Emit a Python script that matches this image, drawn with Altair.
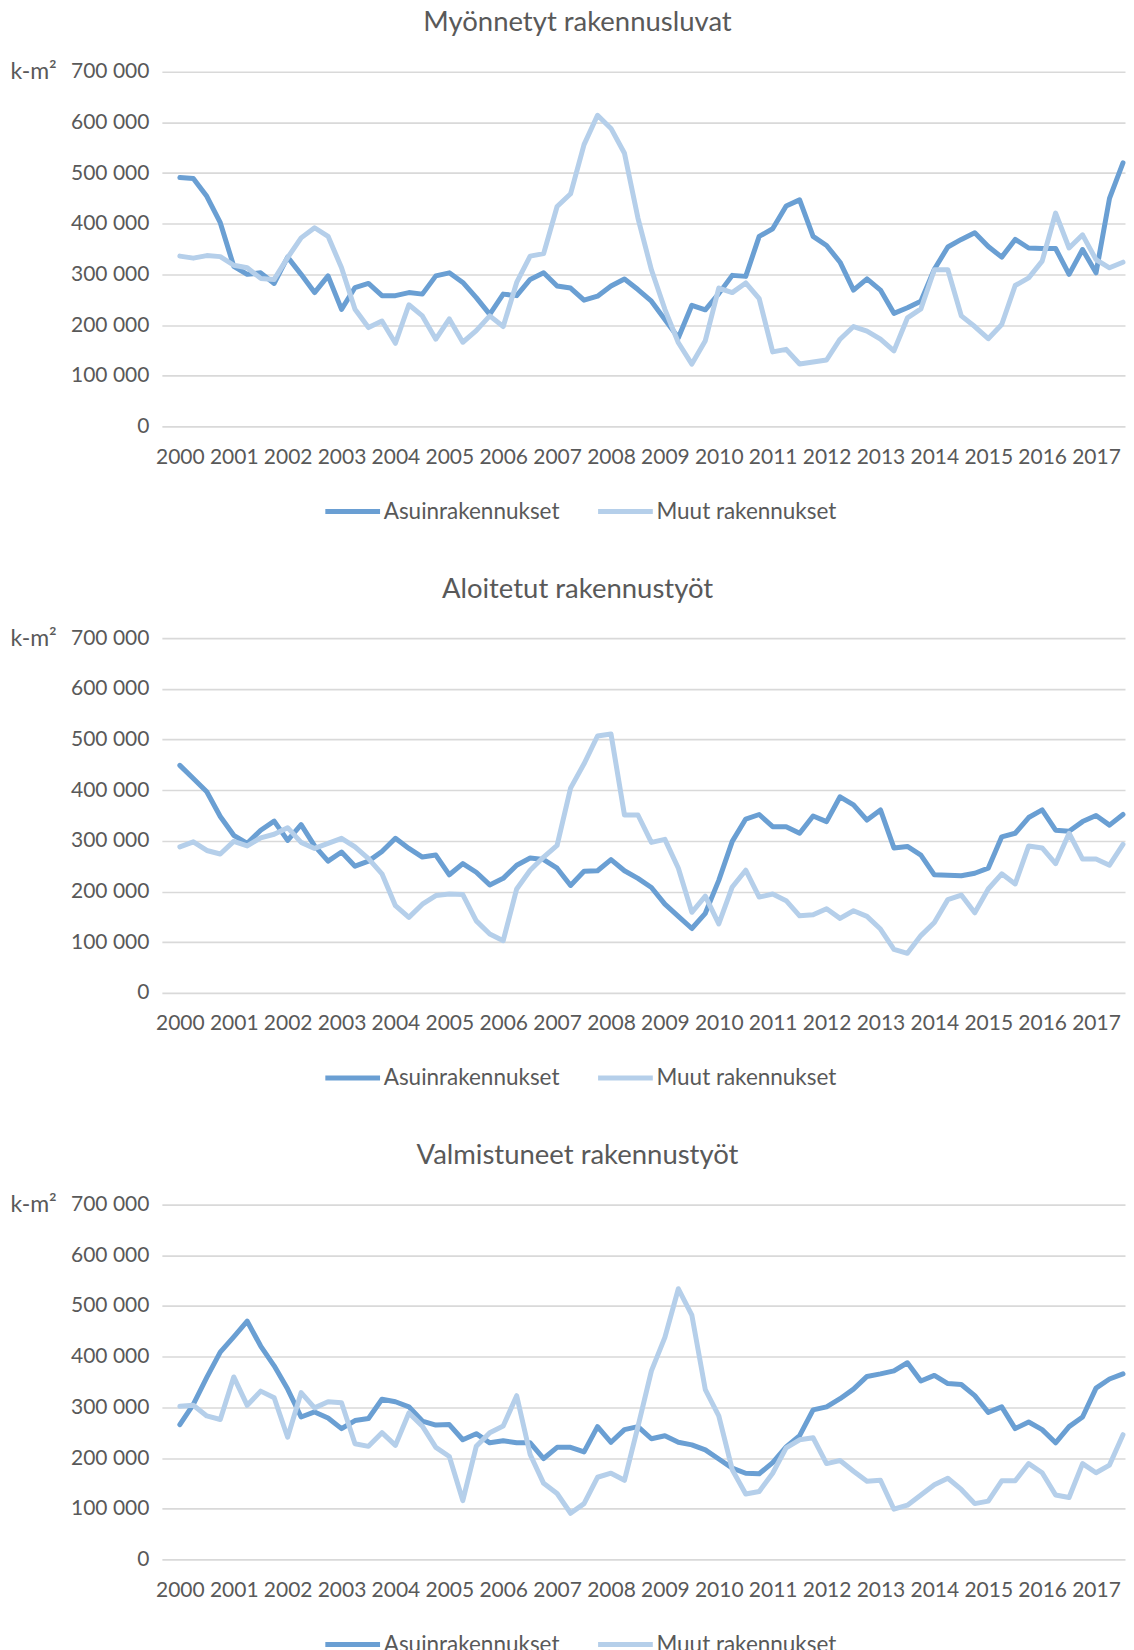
import altair as alt
import pandas as pd

# ---------------- data (quarterly, 2000Q1 .. 2017Q3) ----------------
SERIES = ["Asuinrakennukset", "Muut rakennukset"]
YEARS = list(range(2000, 2018))

TITLES = ["Myönnetyt rakennusluvat", "Aloitetut rakennustyöt", "Valmistuneet  rakennustyöt"]

p1_asuin = [491000, 489000, 454000, 402000, 316000, 300000, 303000, 282000, 334000, 300000,
            264000, 297000, 231000, 274000, 282000, 258000, 258000, 264000, 261000, 297000,
            303000, 284000, 254000, 221000, 261000, 258000, 290000, 303000, 277000, 273000,
            249000, 257000, 277000, 291000, 270000, 247000, 211000, 175000, 239000, 230000,
            262000, 298000, 296000, 375000, 390000, 435000, 447000, 375000, 357000, 324000,
            269000, 291000, 269000, 223000, 234000, 247000, 310000, 354000, 369000, 382000,
            355000, 334000, 369000, 352000, 351000, 351000, 300000, 349000, 303000, 450000,
            520000]
p1_muut = [336000, 332000, 337000, 335000, 318000, 313000, 292000, 290000, 333000, 372000,
           392000, 375000, 313000, 231000, 195000, 208000, 164000, 240000, 218000, 172000,
           212000, 166000, 189000, 218000, 197000, 284000, 336000, 341000, 434000, 459000,
           556000, 614000, 588000, 539000, 411000, 309000, 231000, 165000, 123000, 169000,
           273000, 264000, 283000, 252000, 147000, 152000, 123000, 127000, 131000, 172000,
           197000, 188000, 172000, 149000, 214000, 232000, 309000, 309000, 218000, 197000,
           173000, 201000, 278000, 293000, 326000, 421000, 352000, 378000, 329000, 313000,
           324000]

p2_asuin = [449000, 423000, 397000, 348000, 311000, 295000, 321000, 339000, 301000, 332000,
            290000, 260000, 278000, 250000, 260000, 279000, 305000, 285000, 268000, 272000,
            233000, 255000, 238000, 213000, 226000, 252000, 266000, 263000, 246000, 212000,
            240000, 241000, 263000, 241000, 226000, 208000, 175000, 151000, 127000, 157000,
            222000, 299000, 343000, 352000, 328000, 328000, 315000, 349000, 338000, 387000,
            371000, 341000, 361000, 286000, 289000, 272000, 233000, 232000, 231000, 236000,
            246000, 308000, 315000, 346000, 361000, 321000, 319000, 338000, 350000, 331000,
            352000]
p2_muut = [288000, 298000, 281000, 274000, 299000, 290000, 306000, 313000, 326000, 297000,
           285000, 295000, 305000, 288000, 265000, 235000, 172000, 149000, 175000, 192000,
           195000, 194000, 142000, 116000, 103000, 205000, 242000, 268000, 291000, 404000,
           452000, 507000, 511000, 351000, 351000, 297000, 303000, 246000, 159000, 191000,
           136000, 209000, 242000, 189000, 195000, 182000, 152000, 154000, 166000, 147000,
           162000, 151000, 126000, 86000, 78000, 113000, 139000, 184000, 193000, 158000,
           205000, 235000, 215000, 290000, 286000, 255000, 315000, 264000, 264000, 252000,
           293000]

p3_asuin = [266000, 306000, 359000, 409000, 439000, 470000, 421000, 382000, 336000, 281000,
            291000, 279000, 258000, 274000, 278000, 316000, 311000, 301000, 273000, 265000,
            266000, 236000, 248000, 230000, 234000, 230000, 230000, 199000, 221000, 221000,
            212000, 262000, 231000, 256000, 262000, 238000, 244000, 231000, 226000, 216000,
            198000, 180000, 170000, 169000, 191000, 222000, 244000, 295000, 301000, 317000,
            336000, 361000, 366000, 372000, 388000, 352000, 363000, 347000, 345000, 323000,
            290000, 301000, 258000, 271000, 256000, 230000, 262000, 281000, 338000, 356000,
            366000]
p3_muut = [302000, 304000, 283000, 276000, 360000, 304000, 332000, 319000, 241000, 329000,
           299000, 311000, 309000, 228000, 223000, 250000, 225000, 289000, 263000, 221000,
           203000, 116000, 223000, 250000, 263000, 323000, 207000, 150000, 130000, 91000,
           110000, 162000, 170000, 156000, 262000, 372000, 438000, 534000, 482000, 335000,
           283000, 177000, 129000, 134000, 170000, 220000, 236000, 240000, 189000, 195000,
           174000, 154000, 156000, 99000, 107000, 127000, 147000, 160000, 138000, 110000,
           115000, 155000, 155000, 189000, 171000, 127000, 122000, 189000, 171000, 186000,
           246000]

Y_TICKS = [0, 100000, 200000, 300000, 400000, 500000, 600000, 700000]

# ---------------- style ----------------
DARK = "#6a9fd3"
LIGHT = "#b5cfea"
TEXT = "#595959"
GRID = "#d9d9d9"
FONT = "Lato"
W, H = 964, 355


def panel(title, asuin, muut):
    n = len(asuin)
    df = pd.DataFrame({
        "q": list(range(n)) + list(range(len(muut))),
        "v": asuin + muut,
        "s": [SERIES[0]] * n + [SERIES[1]] * len(muut),
    })
    tick_idx = [(y - YEARS[0]) * 4 for y in YEARS]
    return alt.Chart(df).mark_line(
        strokeWidth=5, strokeJoin="round", strokeCap="round"
    ).encode(
        x=alt.X("q:Q",
                scale=alt.Scale(domain=[-1.335, 70.15], nice=False, zero=False),
                axis=alt.Axis(values=tick_idx, labelExpr=f"'' + ({YEARS[0]} + datum.value / 4)",
                              title=None, grid=False, domain=False, ticks=False,
                              labelFont=FONT, labelFontSize=21, labelColor=TEXT,
                              labelPadding=20, labelOverlap=False, labelFlush=False)),
        y=alt.Y("v:Q",
                scale=alt.Scale(domain=[0, 700000], nice=False),
                axis=alt.Axis(values=Y_TICKS,
                              labelExpr="datum.value == 0 ? '0' : format(datum.value / 1000, 'd') + ' 000'",
                              title="k-m²", titleAngle=0, titleX=-152, titleY=0,
                              titleAlign="left", titleBaseline="middle",
                              titleFont=FONT, titleFontSize=23, titleFontWeight="normal", titleColor=TEXT,
                              grid=True, gridColor=GRID, gridWidth=1.6,
                              domain=False, ticks=False,
                              labelFont=FONT, labelFontSize=21, labelColor=TEXT, labelPadding=13)),
        color=alt.Color("s:N",
                        scale=alt.Scale(domain=SERIES, range=[DARK, LIGHT]),
                        legend=alt.Legend(orient="none", legendX=161, legendY=410,
                                          direction="horizontal", title=None,
                                          symbolType="stroke", symbolStrokeWidth=5, symbolSize=3000,
                                          labelFont=FONT, labelFontSize=22.5, labelColor=TEXT,
                                          labelLimit=0, labelOffset=1, columnPadding=27, padding=0)),
    ).properties(
        width=W, height=H,
        title=alt.TitleParams(title, font=FONT, fontSize=27.5, fontWeight="normal", color=TEXT,
                              anchor="middle", dx=-66, offset=24),
    )


chart = alt.vconcat(
    panel(TITLES[0], p1_asuin, p1_muut),
    panel(TITLES[1], p2_asuin, p2_muut),
    panel(TITLES[2], p3_asuin, p3_muut),
    spacing=52,
).resolve_scale(color="independent").properties(
    padding={"left": 2, "top": 0, "right": 0, "bottom": 0},
).configure_view(stroke=None)

chart.save("out.html", embed_options={"renderer": "svg", "actions": False})
